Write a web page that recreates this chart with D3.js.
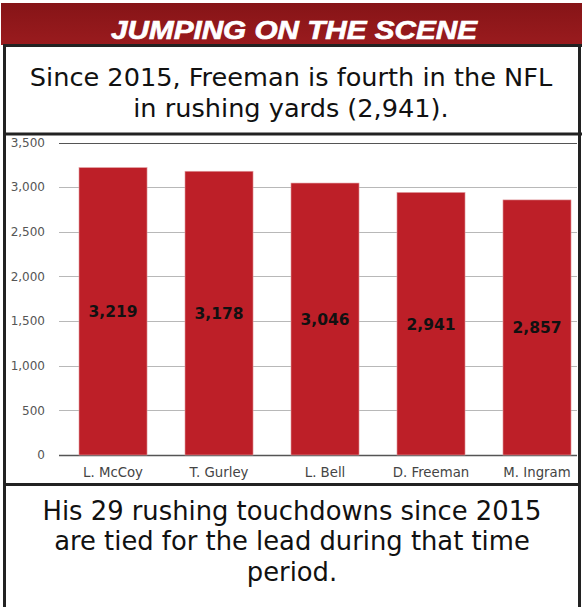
<!DOCTYPE html>
<html>
<head>
<meta charset="utf-8">
<script src="https://d3js.org/d3.v7.min.js"></script>
<style>
  html, body { margin: 0; padding: 0; background: #fff; }
  svg { display: block; }
</style>
</head>
<body>
<div id="chart"></div>
<script>
// ---- Data ----
const players = ["L. McCoy", "T. Gurley", "L. Bell", "D. Freeman", "M. Ingram"];
const yards = [3219, 3178, 3046, 2941, 2857];
const yTicks = [0, 500, 1000, 1500, 2000, 2500, 3000, 3500];
const titleText = "JUMPING ON THE SCENE";
const subtitleLines = ["Since 2015, Freeman is fourth in the NFL", "in rushing yards (2,941)."];
const footerLines = ["His 29 rushing touchdowns since 2015", "are tied for the lead during that time", "period."];

const W = 582, H = 607;
const svg = d3.select("#chart").append("svg").attr("width", W).attr("height", H);
const defs = svg.append("defs");
const grad = defs.append("linearGradient").attr("id", "hdr").attr("x1", 0).attr("y1", 0).attr("x2", 0).attr("y2", 1);
grad.append("stop").attr("offset", "0%").attr("stop-color", "#861417");
grad.append("stop").attr("offset", "100%").attr("stop-color", "#9a1b1e");

// Header band
svg.append("rect").attr("x", 1).attr("y", 3).attr("width", W - 1).attr("height", 42).attr("fill", "url(#hdr)");
svg.append("text").attr("x", 294).attr("y", 39)
  .attr("text-anchor", "middle")
  .attr("font-family", "Liberation Sans, Arial, sans-serif")
  .attr("font-weight", "bold").attr("font-style", "italic")
  .attr("font-size", 26.5).attr("fill", "#fff")
  .attr("stroke", "#fff").attr("stroke-width", 0.7)
  .attr("textLength", 366).attr("lengthAdjust", "spacingAndGlyphs")
  .text(titleText);

const bodyFont = "DejaVu Sans, Verdana, sans-serif";

// Subtitle
svg.append("g").selectAll("text").data(subtitleLines).join("text")
  .attr("x", 291).attr("y", (d, i) => 85.5 + i * 31)
  .attr("text-anchor", "middle").attr("font-family", bodyFont)
  .attr("font-size", 25.6).attr("fill", "#111").text(d => d);

// Footer
svg.append("g").selectAll("text").data(footerLines).join("text")
  .attr("x", 292).attr("y", (d, i) => 519.5 + i * 30.5)
  .attr("text-anchor", "middle").attr("font-family", bodyFont)
  .attr("font-size", 25.8).attr("fill", "#111").text(d => d);

// ---- Chart ----
const y = d3.scaleLinear().domain([0, 3500]).range([455, 142.5]);
const x = d3.scaleBand().domain(players).range([59, 577])
  .paddingInner(0.358).paddingOuter(0.1225).align(0.77);

const chart = svg.append("g");

// gridlines
chart.append("g").selectAll("line").data(yTicks).join("line")
  .attr("x1", 59).attr("x2", 577)
  .attr("y1", d => Math.round(y(d)) + 0.5).attr("y2", d => Math.round(y(d)) + 0.5)
  .attr("stroke", d => (d === 0 || d === 3500) ? "#555" : "#b8b8b8")
  .attr("stroke-width", d => d === 0 ? 1.5 : 1);

// y axis labels
const yAxis = d3.axisLeft(y).tickValues(yTicks).tickFormat(d3.format(",")).tickSize(0).tickPadding(0);
const ya = chart.append("g").attr("transform", "translate(45,0)").call(yAxis);
ya.select(".domain").remove();
ya.selectAll("text").attr("font-family", bodyFont).attr("font-size", 12).attr("fill", "#555");

// bars
chart.append("g").selectAll("rect").data(yards).join("rect")
  .attr("x", (d, i) => x(players[i]))
  .attr("y", d => y(d))
  .attr("width", x.bandwidth())
  .attr("height", d => y(0) - y(d))
  .attr("fill", "#bd1f28")
  .attr("stroke", "#e3a0a4").attr("stroke-width", 0.6);

// value labels
chart.append("g").selectAll("text").data(yards).join("text")
  .attr("x", (d, i) => x(players[i]) + x.bandwidth() / 2)
  .attr("y", d => (y(d) + y(0)) / 2 + 6)
  .attr("text-anchor", "middle").attr("font-family", bodyFont)
  .attr("font-weight", "bold").attr("font-size", 15.5).attr("fill", "#111")
  .text(d => d3.format(",")(d));

// x axis labels
const xAxis = d3.axisBottom(x).tickSize(0).tickPadding(0);
const xa = chart.append("g").attr("transform", "translate(0,476.5)").call(xAxis);
xa.select(".domain").remove();
xa.selectAll("text").attr("dy", 0).attr("font-family", bodyFont).attr("font-size", 13.3).attr("fill", "#444");

// Frame lines
const frame = svg.append("g").attr("stroke", "#222").attr("stroke-width", 3);
frame.append("line").attr("x1", 3).attr("x2", 582).attr("y1", 45.5).attr("y2", 45.5);
frame.append("line").attr("x1", 3).attr("x2", 582).attr("y1", 134).attr("y2", 134);
frame.append("line").attr("x1", 3).attr("x2", 581).attr("y1", 484.5).attr("y2", 484.5);
frame.append("line").attr("x1", 4.5).attr("x2", 4.5).attr("y1", 44).attr("y2", 607);
frame.append("line").attr("x1", 579.5).attr("x2", 579.5).attr("y1", 44).attr("y2", 607);
</script>
</body>
</html>
